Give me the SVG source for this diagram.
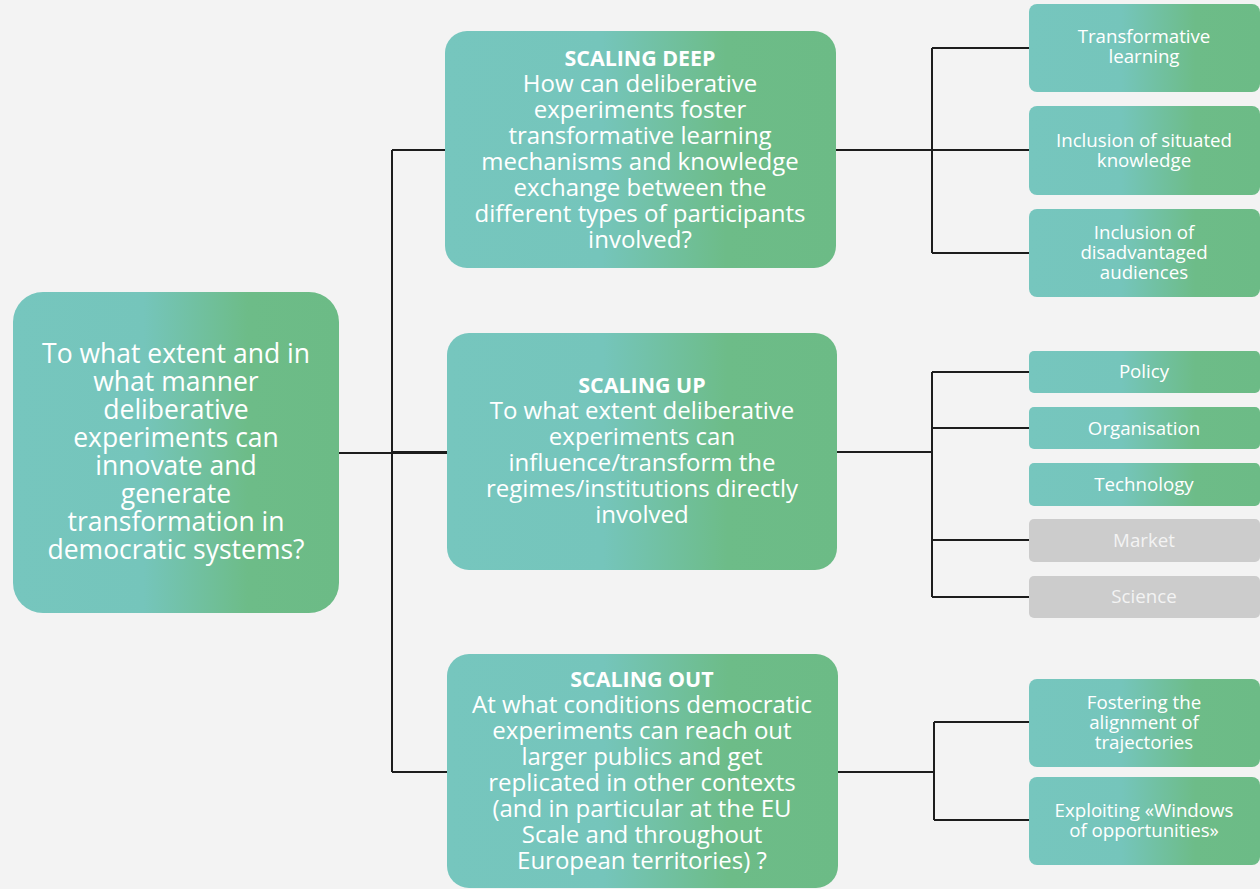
<svg xmlns="http://www.w3.org/2000/svg" width="1260" height="889" viewBox="0 0 1260 889">
<defs>
<linearGradient id="g" x1="0" y1="0" x2="1" y2="0">
<stop offset="0" stop-color="#76c6be"/>
<stop offset="0.4" stop-color="#75c5bb"/>
<stop offset="0.72" stop-color="#6dbc88"/>
<stop offset="1" stop-color="#6cbb86"/>
</linearGradient>
<style>
.n{fill:url(#g)}
.gr{fill:#cccccc}
.t{font-family:"Open Sans","Liberation Sans",sans-serif;fill:#ffffff;text-anchor:middle}
.big{font-size:26.5px}
.mid{font-size:24px}
.ttl{font-size:21.4px;font-weight:bold}
.sm{font-size:18.7px}
.gt{fill:#f3f3f3}
.c{fill:none;stroke:#1c1c1c;stroke-width:2}
</style>
</defs>
<rect width="1260" height="889" fill="#f3f3f3"/>
<g id="connectors">
<path class="c" d="M339 453H451M392 150V772M392 150H445M392 452H451M392 772H447"/>
<path class="c" d="M835 150H1030M932 48V253M932 48H1030M932 253H1030"/>
<path class="c" d="M836 452H932M932 372V597M932 372H1030M932 428H1030M932 540H1030M932 597H1030"/>
<path class="c" d="M837 772H934M934 722V820M934 722H1030M934 820H1030"/>
</g>
<g id="root">
<rect class="n" x="13" y="292" width="326" height="321" rx="30"/>
<text class="t big"><tspan x="176" y="363">To what extent and in</tspan><tspan x="176" y="391">what manner</tspan><tspan x="176" y="419">deliberative</tspan><tspan x="176" y="447">experiments can</tspan><tspan x="176" y="475">innovate and</tspan><tspan x="176" y="503">generate</tspan><tspan x="176" y="531">transformation in</tspan><tspan x="176" y="559">democratic systems?</tspan></text>
</g>
<g id="scaling-deep">
<rect class="n" x="445" y="31" width="391" height="237" rx="22"/>
<text class="t ttl" x="640" y="66">SCALING DEEP</text>
<text class="t mid"><tspan x="640" y="92">How can deliberative</tspan><tspan x="640" y="118">experiments foster</tspan><tspan x="640" y="144">transformative learning</tspan><tspan x="640" y="170">mechanisms and knowledge</tspan><tspan x="640" y="196">exchange between the</tspan><tspan x="640" y="222">different types of participants</tspan><tspan x="640" y="248">involved?</tspan></text>
</g>
<g id="scaling-up">
<rect class="n" x="447" y="333" width="390" height="237" rx="22"/>
<text class="t ttl" x="642" y="393">SCALING UP</text>
<text class="t mid"><tspan x="642" y="419">To what extent deliberative</tspan><tspan x="642" y="445">experiments can</tspan><tspan x="642" y="471">influence/transform the</tspan><tspan x="642" y="497">regimes/institutions directly</tspan><tspan x="642" y="523">involved</tspan></text>
</g>
<g id="scaling-out">
<rect class="n" x="447" y="654" width="391" height="234" rx="22"/>
<text class="t ttl" x="642" y="687">SCALING OUT</text>
<text class="t mid"><tspan x="642" y="713">At what conditions democratic</tspan><tspan x="642" y="739">experiments can reach out</tspan><tspan x="642" y="765">larger publics and get</tspan><tspan x="642" y="791">replicated in other contexts</tspan><tspan x="642" y="817">(and in particular at the EU</tspan><tspan x="642" y="843">Scale and throughout</tspan><tspan x="642" y="869">European territories) ?</tspan></text>
</g>
<g id="transformative-learning">
<rect class="n" x="1029" y="4" width="231" height="88" rx="8"/>
<text class="t sm"><tspan x="1144" y="43">Transformative</tspan><tspan x="1144" y="63">learning</tspan></text>
</g>
<g id="situated-knowledge">
<rect class="n" x="1029" y="106" width="231" height="89" rx="8"/>
<text class="t sm"><tspan x="1144" y="147">Inclusion of situated</tspan><tspan x="1144" y="167">knowledge</tspan></text>
</g>
<g id="disadvantaged-audiences">
<rect class="n" x="1029" y="209" width="231" height="88" rx="8"/>
<text class="t sm"><tspan x="1144" y="239">Inclusion of</tspan><tspan x="1144" y="259">disadvantaged</tspan><tspan x="1144" y="279">audiences</tspan></text>
</g>
<g id="policy">
<rect class="n" x="1029" y="351" width="231" height="42" rx="5"/>
<text class="t sm" x="1144" y="378">Policy</text>
</g>
<g id="organisation">
<rect class="n" x="1029" y="407" width="231" height="42" rx="5"/>
<text class="t sm" x="1144" y="435">Organisation</text>
</g>
<g id="technology">
<rect class="n" x="1029" y="463" width="231" height="43" rx="5"/>
<text class="t sm" x="1144" y="491">Technology</text>
</g>
<g id="market">
<rect class="gr" x="1029" y="519" width="231" height="43" rx="5"/>
<text class="t sm gt" x="1144" y="547">Market</text>
</g>
<g id="science">
<rect class="gr" x="1029" y="576" width="231" height="42" rx="5"/>
<text class="t sm gt" x="1144" y="603">Science</text>
</g>
<g id="fostering-alignment">
<rect class="n" x="1029" y="679" width="231" height="88" rx="8"/>
<text class="t sm"><tspan x="1144" y="709">Fostering the</tspan><tspan x="1144" y="729">alignment of</tspan><tspan x="1144" y="749">trajectories</tspan></text>
</g>
<g id="windows-of-opportunities">
<rect class="n" x="1029" y="777" width="231" height="88" rx="8"/>
<text class="t sm"><tspan x="1144" y="817">Exploiting «Windows</tspan><tspan x="1144" y="837">of opportunities»</tspan></text>
</g>
</svg>
